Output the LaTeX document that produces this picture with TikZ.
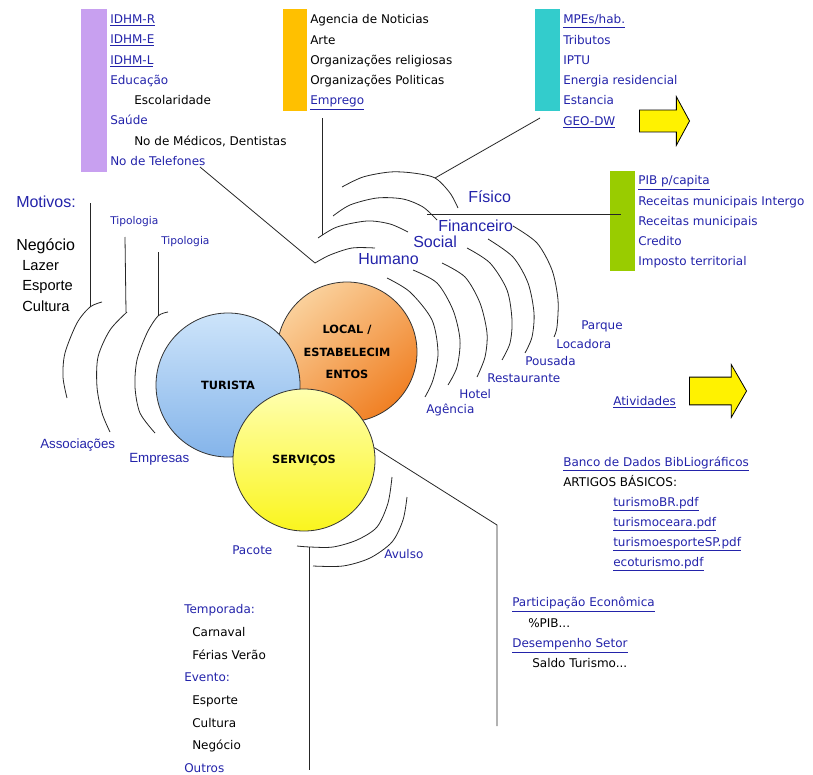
\documentclass[tikz,border=0pt]{standalone}
\usepackage{fontspec}
\setmainfont{DejaVu Sans}
\newfontfamily\arialfont{Liberation Sans}
\usetikzlibrary{shapes.arrows}

\definecolor{lnkblue}{RGB}{35,35,170}
\definecolor{lila}{RGB}{200,160,240}
\definecolor{gold}{RGB}{255,192,0}
\definecolor{tealbar}{RGB}{51,204,204}
\definecolor{limebar}{RGB}{153,204,0}
\newcommand{\lnk}[1]{\underline{#1}}

\begin{document}
\begin{tikzpicture}[x=0.75pt, y=-0.75pt,
lst/.style={anchor=north west, inner sep=0pt, align=left, text=lnkblue, font=\fontsize{9}{15.2}\selectfont},
lbl/.style={anchor=base west, inner sep=0pt, text=lnkblue, font=\fontsize{9}{11}\selectfont},
big/.style={anchor=base west, inner sep=0pt, text=lnkblue, font=\arialfont\fontsize{12}{14}\selectfont},
bar/.style={anchor=north west, inner sep=0pt, draw=none},
ball/.style={circle, draw=black!80, line width=0.6pt, align=center, inner sep=0pt, font=\bfseries\fontsize{8.5}{17}\selectfont},
yarrow/.style={single arrow, draw=black, line width=0.6pt, fill=yellow, inner xsep=0pt, minimum width=0pt, anchor=tip},
ring/.style={draw=black!85, line width=0.6pt},
wire/.style={draw=black!85, line width=0.6pt}
]
\useasboundingbox (0,0) rectangle (813,774);

% colour bars and their lists
\node[bar, fill=lila, minimum width=19.5pt, minimum height=122pt] (idhmbar) at (81,9) {};
\node[lst] (idhm) at (110,14.5) {
    \lnk{IDHM-R}\\
    \lnk{IDHM-E}\\
    \lnk{IDHM-L}\\
    Educação\\
    \hspace*{18pt}{\color{black}Escolaridade}\\
    Saúde\\
    \hspace*{18pt}{\color{black}No de Médicos, Dentistas}\\
    No de Telefones
};
\node[bar, fill=gold, minimum width=18pt, minimum height=76.5pt] (socbar) at (283,9) {};
\node[lst, text=black] (noticias) at (310,14.5) {
    Agencia de Noticias\\
    Arte\\
    Organizações religiosas\\
    Organizações Politicas\\
    {\color{lnkblue}\lnk{Emprego}}
};
\node[bar, fill=tealbar, minimum width=18.75pt, minimum height=76.5pt] (fisbar) at (535,9) {};
\node[lst] (mpes) at (563,14.5) {
    \lnk{MPEs/hab.}\\
    Tributos\\
    IPTU\\
    Energia residencial\\
    Estancia\\
    \lnk{GEO-DW}
};
\node[bar, fill=limebar, minimum width=18.75pt, minimum height=75pt] (finbar) at (610,171) {};
\node[lst] (pib) at (638,175.5) {
    \lnk{PIB p/capita}\\
    Receitas municipais Intergo\\
    Receitas municipais\\
    Credito\\
    Imposto territorial
};

% yellow arrows
\node[yarrow, minimum height=37.5pt, inner ysep=7.9pt, single arrow head extend=10pt, single arrow tip angle=123] (arrgeo) at (690,121) {};
\node[yarrow, minimum height=42.75pt, inner ysep=10.1pt, single arrow head extend=9.4pt, single arrow tip angle=120] (arrativ) at (747,391) {};
\node[lbl] (ativ) at (613,405) {\lnk{Atividades}};

% the three circles
\node[ball, minimum size=105pt, top color={rgb,255:red,250;green,208;blue,155}, bottom color={rgb,255:red,240;green,128;blue,36}, shading angle=40] (local) at (347,352) {LOCAL /\\ESTABELECIM\\ENTOS};
\node[ball, minimum size=108pt, top color={rgb,255:red,205;green,228;blue,250}, bottom color={rgb,255:red,132;green,180;blue,234}] (turista) at (228,385) {TURISTA};
\node[ball, minimum size=106.5pt, top color={rgb,255:red,255;green,255;blue,175}, bottom color={rgb,255:red,250;green,245;blue,30}] (servicos) at (304,460) {SERVIÇOS};

% rings round LOCAL
\draw[ring] plot[smooth] coordinates {(342,187) (363,177) (390,172) (413,173) (435,178) (450,193) (458,208)};
\draw[ring] plot[smooth] coordinates {(333,216) (350,205) (377,198) (403,199) (423,207) (437,220)};
\draw[ring] plot[smooth] coordinates {(318,238) (337,227) (367,221) (390,224) (408,232)};
\draw[ring] plot[smooth] coordinates {(315,263) (330,255) (352,248) (375,248)};
\draw[ring] plot[smooth] coordinates {(387,278) (410,292) (432,320) (438,353) (433,380) (425,397)};
\draw[ring] plot[smooth] coordinates {(413,270) (437,283) (453,310) (460,340) (457,367) (448,385)};
\draw[ring] plot[smooth] coordinates {(442,263) (465,277) (480,303) (487,333) (485,357) (477,377)};
\draw[ring] plot[smooth] coordinates {(467,248) (490,263) (507,290) (512,320) (510,343) (502,360)};
\draw[ring] plot[smooth] coordinates {(488,239) (513,257) (528,283) (534,313) (532,337) (525,353)};
\draw[ring] plot[smooth] coordinates {(513,226) (537,243) (552,270) (558,300) (557,327) (554,337)};

\node[big] (fisico) at (468,202) {Físico};
\node[big] (financeiro) at (438,231) {Financeiro};
\node[big] (social) at (413,247) {Social};
\node[big] (humano) at (358,264) {Humano};
\node[lbl] (agencia) at (426,413) {Agência};
\node[lbl] (hotel) at (459,398) {Hotel};
\node[lbl] (restaurante) at (487,382) {Restaurante};
\node[lbl] (pousada) at (525,365) {Pousada};
\node[lbl] (locadora) at (556,348) {Locadora};
\node[lbl] (parque) at (581,329) {Parque};

% rings round TURISTA
\draw[ring] plot[smooth] coordinates {(102,302) (90,307) (77,323) (65,353) (63,377) (67,398)};
\draw[ring] plot[smooth] coordinates {(127,312) (110,330) (98,357) (97,387) (102,413) (110,432)};
\draw[ring] plot[smooth] coordinates {(168,312) (158,316) (147,333) (137,360) (135,387) (140,413) (155,433)};

\node[big] (motivos) at (16,207.5) {Motivos:};
\node[big, text=black] (negocio) at (16,250.5) {Negócio};
\node[big, text=black, font=\arialfont\fontsize{11}{13}\selectfont] (lazer) at (22,270.5) {Lazer};
\node[big, text=black, font=\arialfont\fontsize{11}{13}\selectfont] (esporte) at (22,290.5) {Esporte};
\node[big, text=black, font=\arialfont\fontsize{11}{13}\selectfont] (cultura) at (22,311) {Cultura};
\node[lbl, font=\fontsize{8}{10}\selectfont] (tipo1) at (110,224) {Tipologia};
\node[lbl, font=\fontsize{8}{10}\selectfont] (tipo2) at (161,244) {Tipologia};
\node[big, font=\arialfont\fontsize{10}{12}\selectfont] (assoc) at (40,448) {Associações};
\node[big, font=\arialfont\fontsize{10}{12}\selectfont] (empresas) at (129,462) {Empresas};

% rings round SERVICOS
\draw[ring] plot[smooth] coordinates {(392,477) (388,503) (377,527) (357,540) (333,547) (310,547) (297,546)};
\draw[ring] plot[smooth] coordinates {(407,497) (403,520) (392,542) (370,558) (343,566) (313,566)};
\node[lbl] (pacote) at (232,554) {Pacote};
\node[lbl] (avulso) at (384,558) {Avulso};

\node[lst, font=\fontsize{9}{17}\selectfont] (temporada) at (184,604.5) {
    Temporada:\\
    \hspace*{6pt}{\color{black}Carnaval}\\
    \hspace*{6pt}{\color{black}Férias Verão}\\
    Evento:\\
    \hspace*{6pt}{\color{black}Esporte}\\
    \hspace*{6pt}{\color{black}Cultura}\\
    \hspace*{6pt}{\color{black}Negócio}\\
    Outros
};
\node[lst, font=\fontsize{9}{15}\selectfont] (banco) at (563,456.5) {
    \lnk{Banco de Dados BibLiográficos}\\
    {\color{black}ARTIGOS BÁSICOS:}\\
    \hspace*{37.5pt}\lnk{turismoBR.pdf}\\
    \hspace*{37.5pt}\lnk{turismoceara.pdf}\\
    \hspace*{37.5pt}\lnk{turismoesporteSP.pdf}\\
    \hspace*{37.5pt}\lnk{ecoturismo.pdf}
};
\node[lst] (partic) at (512,597) {
    \lnk{Participação Econômica}\\
    \hspace*{12pt}{\color{black}\%PIB...}\\
    \lnk{Desempenho Setor}\\
    \hspace*{15pt}{\color{black}Saldo Turismo...}
};

% connectors
\coordinate (telend) at (200,167);
\coordinate (humstart) at (315,263);
\coordinate (emptop) at (322,118);
\coordinate (empend) at (322,235);
\coordinate (geoend) at (540,118);
\coordinate (fisend) at (435,178);
\coordinate (finstart) at (427,214);
\coordinate (finend) at (621,214);
\coordinate (motop) at (90,203);
\coordinate (motend) at (90,307);
\coordinate (tip1top) at (125,237);
\coordinate (tip1end) at (126,312);
\coordinate (tip2top) at (158,252);
\coordinate (tip2end) at (158,316);
\coordinate (pacstart) at (309,547);
\coordinate (pacend) at (309,770);
\coordinate (servknee) at (497,525);
\coordinate (servend) at (497,726);

\draw[wire] (telend) -- (humstart);
\draw[wire] (emptop) -- (empend);
\draw[wire] (geoend) -- (fisend);
\draw[wire] (finstart) -- (finend);
\draw[wire] (motop) -- (motend);
\draw[wire] (tip1top) -- (tip1end);
\draw[wire] (tip2top) -- (tip2end);
\draw[wire] (pacstart) -- (pacend);
\draw[wire] (servicos.10) -- (servknee) -- (servend);
\end{tikzpicture}
\end{document}
